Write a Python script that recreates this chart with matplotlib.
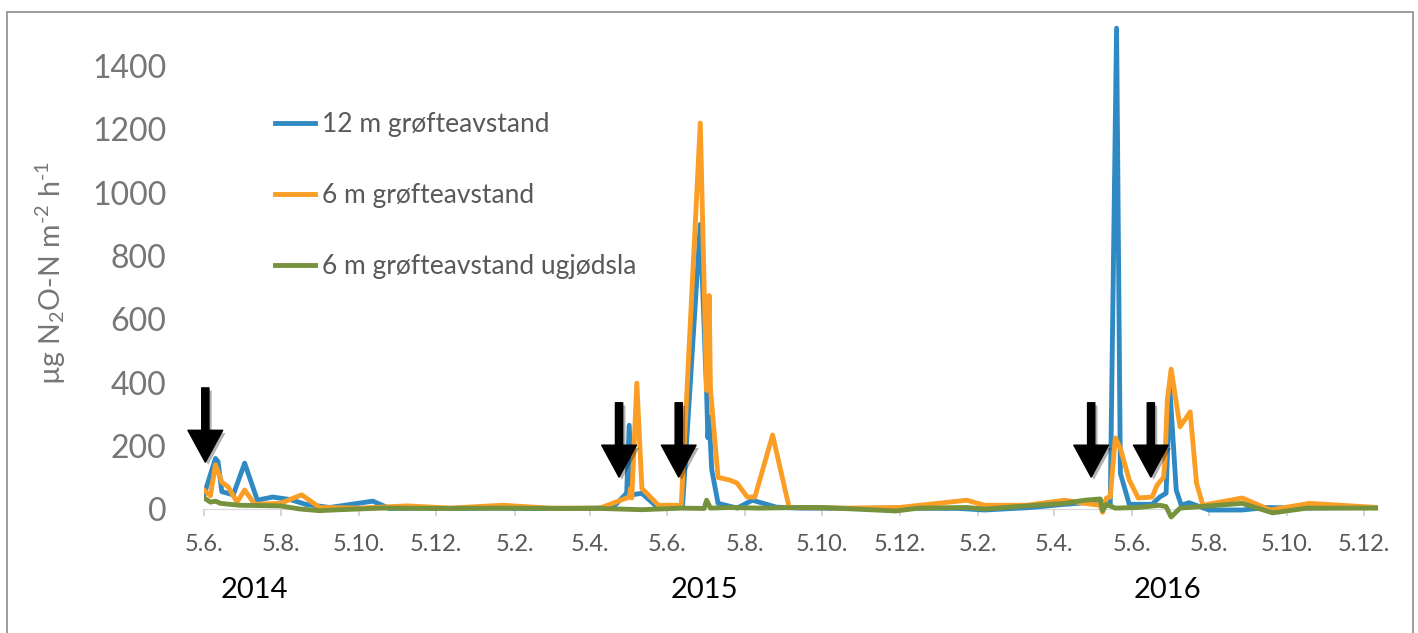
import matplotlib.pyplot as plt
import matplotlib.patches as patches
import matplotlib.patheffects as pe
import matplotlib.transforms as mtransforms
import pandas as pd

plt.rcParams['font.family'] = ['Lato', 'DejaVu Sans']
plt.rcParams['mathtext.default'] = 'regular'

# 12 m grøfteavstand
blue_dates = ['2014-06-05', '2014-06-14', '2014-06-16', '2014-06-19', '2014-06-28', '2014-07-07',
              '2014-07-17', '2014-07-29', '2014-08-12', '2014-08-24', '2014-09-12', '2014-09-24',
              '2014-10-16', '2014-10-29', '2014-11-22', '2014-12-20', '2015-01-20', '2015-02-20',
              '2015-03-20', '2015-04-10', '2015-04-23', '2015-05-04', '2015-05-06', '2015-05-08',
              '2015-05-16', '2015-05-27', '2015-06-17', '2015-07-01', '2015-07-06', '2015-07-07',
              '2015-07-08', '2015-07-10', '2015-07-15', '2015-07-30', '2015-08-11', '2015-08-30',
              '2015-09-17', '2015-10-27', '2015-12-05', '2016-01-21', '2016-02-10', '2016-03-17',
              '2016-04-13', '2016-04-29', '2016-05-11', '2016-05-15', '2016-05-19', '2016-05-24',
              '2016-05-27', '2016-06-03', '2016-06-21', '2016-06-27', '2016-07-02', '2016-07-05',
              '2016-07-10', '2016-07-14', '2016-07-20', '2016-08-05', '2016-08-31', '2016-09-19',
              '2016-10-15', '2016-12-01', '2016-12-15']
blue_vals = [45, 160, 150, 55, 45, 145,
             28, 38, 30, 15, 5, 12,
             25, 2, 3, 2, 3, 2,
             2, 3, 5, 50, 265, 45,
             50, 10, 8, 900, 365, 225,
             290, 125, 18, 3, 28, 6,
             3, 2, 3, 2, -3, 5,
             15, 20, 30, 10, 15, 1520,
             113, 15, 15, 38, 50, 380,
             60, 12, 20, -3, -3, 5,
             3, 5, 5]

# 6 m grøfteavstand
orange_dates = ['2014-06-05', '2014-06-10', '2014-06-14', '2014-06-19', '2014-06-24', '2014-07-01',
                '2014-07-07', '2014-07-15', '2014-08-04', '2014-08-21', '2014-09-04', '2014-10-06',
                '2014-11-12', '2014-12-16', '2015-01-26', '2015-03-04', '2015-04-13', '2015-05-06',
                '2015-05-07', '2015-05-08', '2015-05-12', '2015-05-16', '2015-05-21', '2015-05-29',
                '2015-06-16', '2015-07-01', '2015-07-06', '2015-07-08', '2015-07-09', '2015-07-15',
                '2015-07-24', '2015-07-30', '2015-08-07', '2015-08-13', '2015-08-27', '2015-09-09',
                '2015-10-27', '2015-12-05', '2016-01-27', '2016-02-10', '2016-03-14', '2016-04-13',
                '2016-04-29', '2016-05-11', '2016-05-13', '2016-05-16', '2016-05-19', '2016-05-23',
                '2016-05-27', '2016-06-03', '2016-06-10', '2016-06-21', '2016-06-25', '2016-06-30',
                '2016-07-01', '2016-07-03', '2016-07-06', '2016-07-13', '2016-07-21', '2016-07-26',
                '2016-07-31', '2016-08-31', '2016-09-22', '2016-10-23', '2016-12-15']
orange_vals = [60, 42, 140, 85, 70, 22,
               60, 15, 18, 45, 5, 3,
               10, 3, 12, 3, 3, 38,
               65, 35, 398, 65, 45, 12,
               12, 1220, 375, 675, 380, 100,
               92, 82, 38, 38, 234, 5,
               3, 5, 28, 12, 12, 28,
               18, 12, -10, 35, 38, 225,
               192, 92, 35, 38, 76, 100,
               145, 345, 442, 260, 307, 82,
               12, 35, -3, 18, 5]

# 6 m grøfteavstand ugjødsla
green_dates = ['2014-06-05', '2014-06-10', '2014-06-14', '2014-06-18', '2014-07-03', '2014-08-04',
               '2014-08-20', '2014-09-04', '2014-09-20', '2014-10-22', '2014-12-08', '2015-01-25',
               '2015-03-15', '2015-04-13', '2015-05-16', '2015-06-16', '2015-07-04', '2015-07-06',
               '2015-07-09', '2015-07-24', '2015-08-17', '2015-09-17', '2015-10-05', '2015-12-02',
               '2015-12-20', '2016-01-27', '2016-02-10', '2016-03-14', '2016-04-13', '2016-04-29',
               '2016-05-11', '2016-05-13', '2016-05-16', '2016-05-23', '2016-06-10', '2016-06-27',
               '2016-07-02', '2016-07-06', '2016-07-13', '2016-08-31', '2016-09-24', '2016-10-21',
               '2016-12-15']
green_vals = [35, 22, 25, 18, 12, 10,
              0, -5, -2, 3, 2, 3,
              2, 2, -2, 3, 2, 28,
              3, 5, 3, 5, 5, -6,
              3, 5, 0, 10, 18, 28,
              32, -5, 15, 3, 5, 12,
              8, -25, 3, 18, -12, 3,
              3]

series_labels = ['12 m grøfteavstand', '6 m grøfteavstand', '6 m grøfteavstand ugjødsla']
# fertiliser application arrows: date, top value, tip value
arrow_dates = ['2014-06-06', '2015-04-28', '2015-06-14', '2016-05-04', '2016-06-20']
arrow_tops = [383, 336, 336, 336, 336]
arrow_tips = [148, 101, 101, 101, 101]
year_labels = ['2014', '2015', '2016']
year_dates = ['2014-07-15', '2015-07-04', '2016-07-03']
tick_dates = pd.date_range('2014-06-01', '2016-12-01', freq='2MS') + pd.Timedelta(days=4)
y_ticks = [0, 200, 400, 600, 800, 1000, 1200, 1400]

fig = plt.figure(figsize=(14.18, 6.33), dpi=100)
ax = fig.add_axes([0.1439, 0.1758, 0.9718 - 0.1439, 0.7847])

colors = ['#2F8AC4', '#FA9E25', '#76923C']
for d, v, c, lab in zip([blue_dates, orange_dates, green_dates],
                        [blue_vals, orange_vals, green_vals], colors, series_labels):
    ax.plot(pd.to_datetime(d), v, color=c, lw=3.5, label=lab, solid_joinstyle='round')

ax.set_xlim(pd.Timestamp('2014-06-05'), pd.Timestamp('2016-12-16'))
ax.set_ylim(-40, 1530)

ax.set_yticks(y_ticks)
ax.set_yticklabels([str(t) for t in y_ticks])
ax.tick_params(axis='y', length=0, pad=27, labelsize=23, labelcolor='#767676')

ax.set_xticks(tick_dates)
ax.set_xticklabels([f'{t.day}.{t.month}.' for t in tick_dates])
ax.tick_params(axis='x', direction='out', length=5, width=1.2, color='#D0D0D0', pad=13,
               labelsize=17, labelcolor='#595959')

for s in ['top', 'right', 'left']:
    ax.spines[s].set_visible(False)
ax.spines['bottom'].set_position(('data', 0))
ax.spines['bottom'].set_color('#D9D9D9')
ax.spines['bottom'].set_zorder(0)

ax.set_ylabel('µg N$_2$O-N m$^{\u20102}$ h$^{\u20101}$', fontsize=20.5, color='#767676')
ax.yaxis.set_label_coords(-0.116, 0.5)

leg = ax.legend(loc='upper left', bbox_to_anchor=(275 / 1418, 1 - 112 / 633),
                bbox_transform=fig.transFigure, frameon=False, fontsize=19,
                handlelength=1.5, handletextpad=0.3, labelspacing=1.75,
                borderpad=0, borderaxespad=0)
for t in leg.get_texts():
    t.set_color('#595959')

for d, top, tip in zip(arrow_dates, arrow_tops, arrow_tips):
    ax.annotate('', xy=(pd.Timestamp(d), tip), xytext=(pd.Timestamp(d), top),
                arrowprops=dict(arrowstyle='simple,head_width=1.25,head_length=1.15,tail_width=0.26',
                                color='black', mutation_scale=20, shrinkA=0, shrinkB=0,
                                path_effects=[pe.withSimplePatchShadow(offset=(2, -2), alpha=0.3)]))

trans = mtransforms.blended_transform_factory(ax.transData, fig.transFigure)
for lab, d in zip(year_labels, year_dates):
    ax.text(pd.Timestamp(d), 0.068, lab, transform=trans, ha='center', va='center',
            fontsize=21, color='black')

fig.patches.append(patches.Rectangle((7 / 1418, -0.02), 1406 / 1418, 1 - 12 / 633 + 0.02,
                                     transform=fig.transFigure, fill=False,
                                     edgecolor='#8C8C8C', lw=1.2))

fig.savefig('out.png', dpi=100)
